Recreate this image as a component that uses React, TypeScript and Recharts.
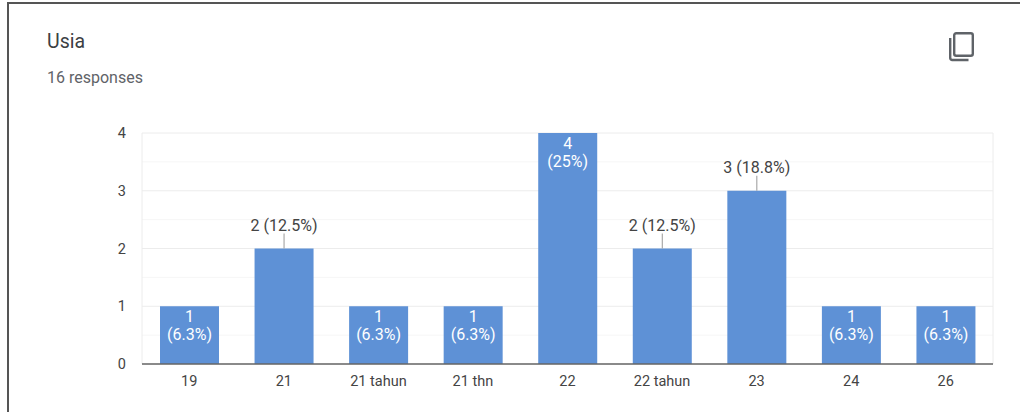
import React from 'react';
import { BarChart, Bar, XAxis, YAxis, CartesianGrid, LabelList } from 'recharts';

const CATEGORIES = ['19', '21', '21 tahun', '21 thn', '22', '22 tahun', '23', '24', '26'];
const COUNTS = [1, 2, 1, 1, 4, 2, 3, 1, 1];
const PERCENTS = ['6.3%', '12.5%', '6.3%', '6.3%', '25%', '12.5%', '18.8%', '6.3%', '6.3%'];
const MAJOR_TICKS = [0, 1, 2, 3, 4];
const MINOR_TICKS = [0.5, 1.5, 2.5, 3.5];
const OUTSIDE_LABEL_COUNTS = [2, 3];

const FONT = 'Roboto, sans-serif';
const BAR_COLOR = '#5e91d6';
const TEXT_COLOR = '#444444';

const data = CATEGORIES.map((age, i) => ({ age, count: COUNTS[i], percent: PERCENTS[i] }));

const BarLabel = ({ x, y, width, index }: any) => {
    const row = data[index];
    const cx = x + width / 2;
    if (OUTSIDE_LABEL_COUNTS.includes(row.count)) {
        return (
            <g>
                <line x1={cx} x2={cx} y1={y} y2={y - 15} stroke="#999999" strokeWidth={1} />
                <text x={cx} y={y - 18} textAnchor="middle" fontSize={16} fontFamily={FONT} fill={TEXT_COLOR}>
                    {`${row.count} (${row.percent})`}
                </text>
            </g>
        );
    }
    return (
        <text textAnchor="middle" fontSize={16} fontFamily={FONT} fill="#ffffff">
            <tspan x={cx} y={y + 16}>{row.count}</tspan>
            <tspan x={cx} y={y + 34}>{`(${row.percent})`}</tspan>
        </text>
    );
};

const CopyIcon = () => (
    <svg width={30} height={34} style={{ position: 'absolute', left: 947, top: 30 }}>
        <rect x={7.2} y={3.2} width={18.6} height={22.6} rx={2} fill="none" stroke="#5f6368" strokeWidth={2.4} />
        <path d="M3.2 8 V28 a2 2 0 0 0 2 2 H21.5" fill="none" stroke="#5f6368" strokeWidth={2.4} />
    </svg>
);

const App = () => (
    <div style={{ position: 'absolute', left: 0, top: 0, width: 1020, height: 412, background: '#ffffff', overflow: 'hidden', fontFamily: FONT }}>
        <div style={{ position: 'absolute', left: 7, top: 2, right: 0, bottom: 0, borderTop: '2px solid #555555', borderLeft: '2px solid #555555' }} />
        <div style={{ position: 'absolute', left: 47, top: 32, fontSize: 19.5, lineHeight: '20px', color: '#3c4043' }}>Usia</div>
        <div style={{ position: 'absolute', left: 47, top: 69, fontSize: 16, lineHeight: '18px', color: '#5f6368' }}>16 responses</div>
        <CopyIcon />
        <div style={{ position: 'absolute', left: 0, top: 0 }}>
            <BarChart width={1020} height={412} data={data} margin={{ top: 133, right: 27, bottom: 0, left: 0 }}>
                <CartesianGrid
                    stroke="#f6f6f6"
                    horizontalValues={MINOR_TICKS}
                    vertical={false}
                />
                <CartesianGrid
                    stroke="#ececec"
                    horizontalValues={MAJOR_TICKS}
                    verticalCoordinatesGenerator={({ offset }: any) => [offset.left, offset.left + offset.width]}
                />
                <XAxis
                    dataKey="age"
                    height={48}
                    interval={0}
                    tickLine={false}
                    axisLine={{ stroke: '#666666', strokeWidth: 1.5 }}
                    tickMargin={6}
                    tick={{ fontSize: 14.5, fontFamily: FONT, fill: TEXT_COLOR }}
                />
                <YAxis
                    width={142}
                    domain={[0, 4]}
                    ticks={MAJOR_TICKS}
                    tickLine={false}
                    axisLine={false}
                    tickMargin={10}
                    tick={{ fontSize: 14.5, fontFamily: FONT, fill: TEXT_COLOR }}
                />
                <Bar dataKey="count" fill={BAR_COLOR} barSize={59} isAnimationActive={false}>
                    <LabelList dataKey="count" content={<BarLabel />} />
                </Bar>
            </BarChart>
        </div>
    </div>
);

export default App;
